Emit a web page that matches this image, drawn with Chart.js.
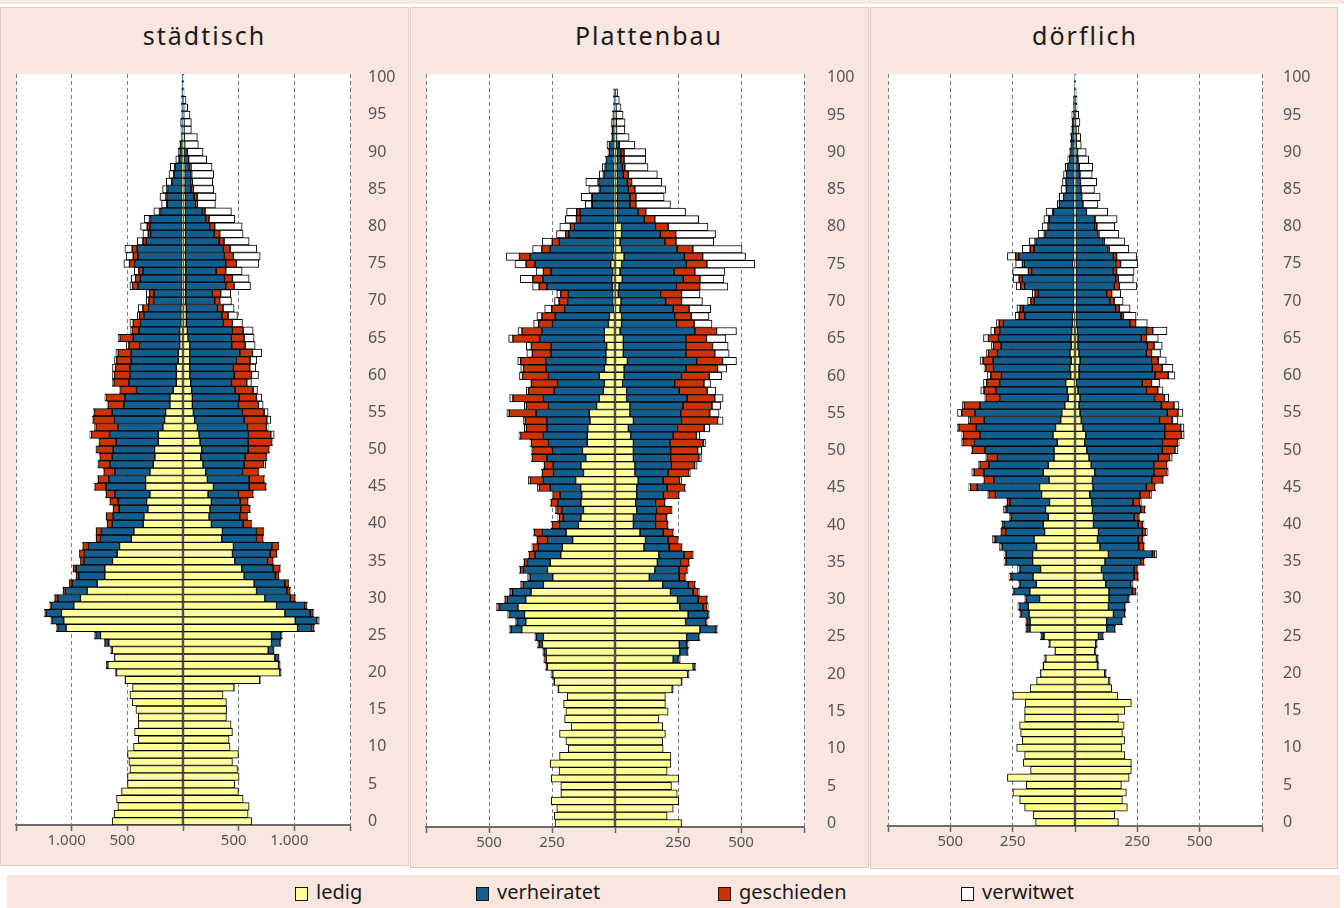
<!DOCTYPE html>
<html lang="de">
<head>
<meta charset="utf-8">
<title>Bevölkerung nach Alter und Familienstand</title>
<script src="https://cdn.jsdelivr.net/npm/chart.js@4.4.1/dist/chart.umd.min.js"></script>
<style>
  html, body { margin: 0; padding: 0; background: #fff; }
  body { width: 1344px; height: 908px; position: relative; overflow: hidden; font-family: "Noto Sans", sans-serif; }
  .streifen { position: absolute; left: 0; top: 0; width: 1344px; height: 4px; background: #f9e6de; }
  .panel { position: absolute; top: 7px; background: #f9e6de; box-sizing: border-box; border: 1px solid #ddccc4; }
  .titel { position: absolute; top: 20px; height: 30px; line-height: 30px; text-align: center; font-size: 25px; letter-spacing: 2px; color: #1a1a1a; }
  canvas { position: absolute; }
  .legende { position: absolute; left: 7px; top: 875px; width: 1333px; height: 33px; background: #f9e6de; }
  .eintrag { position: absolute; top: 0; height: 33px; line-height: 33px; font-size: 20px; color: #1a1a1a; }
  .eintrag span { position: absolute; left: 0; top: 12px; width: 11px; height: 12px; border: 1px solid #111; }
  .eintrag b { font-weight: normal; margin-left: 21px; }
</style>
</head>
<body>
<div class="streifen"></div>
<div class="panel" style="left:0;width:409px;height:859px"></div>
<div class="panel" style="left:410px;width:459px;height:861px"></div>
<div class="panel" style="left:870px;width:468px;height:862px"></div>
<div class="titel" style="left:0;width:409px">städtisch</div>
<div class="titel" style="left:410px;width:478px">Plattenbau</div>
<div class="titel" style="left:870px;width:430px">dörflich</div>
<canvas id="stadt" width="409" height="860" style="left:0;top:7px;width:409px;height:860px"></canvas>
<canvas id="platte" width="458" height="861" style="left:410px;top:7px;width:458px;height:861px"></canvas>
<canvas id="dorf" width="468" height="862" style="left:870px;top:7px;width:468px;height:862px"></canvas>
<div class="legende">
  <div class="eintrag" style="left:288px"><span style="background:#ffff99"></span><b>ledig</b></div>
  <div class="eintrag" style="left:469px"><span style="background:#135f8f"></span><b>verheiratet</b></div>
  <div class="eintrag" style="left:711px"><span style="background:#cc3300"></span><b>geschieden</b></div>
  <div class="eintrag" style="left:954px"><span style="background:#ffffff"></span><b>verwitwet</b></div>
</div>
<script>
// Altersjahre 0..100 (Kategorien der y-Achse)
const alter = Array.from({ length: 101 }, (_, i) => i);
const altersTicks = [0, 5, 10, 15, 20, 25, 30, 35, 40, 45, 50, 55, 60, 65, 70, 75, 80, 85, 90, 95, 100];

const statusNamen = ['ledig', 'verheiratet', 'geschieden', 'verwitwet'];
const statusFarben = ['#ffff99', '#125e8e', '#cc3300', '#ffffff'];

// ------------------- städtisch -------------------
const stadtLedigL = [636,618,585,597,552,498,498,477,486,498, 444,402,435,402,402,423,456,477,453,519, 597,675,615,636,666,741,1050,1071,1092,981, 921,861,771,702,702,633,591,570,465,441, 357,351,315,327,297,336,336,297,267,252, 255,222,222,180,165,156,117,117,87,60, 60,60,42,42,30,30,30,15,15,15, 12,12,12,12,12,12,12,12,6,6, 6,6,6,6,6,6,6,6,6,3, 3,3,3,0,0,0,0,0,0,0, 0];
const stadtVerhL = [0,0,0,0,0,0,0,0,0,0, 0,0,0,0,0,0,0,0,0,3, 9,12,3,9,36,42,75,105,135,204, 204,195,225,234,258,258,294,279,276,291, 279,276,258,255,315,354,330,315,390,384, 372,378,438,405,450,480,414,405,330,426, 417,417,423,423,360,417,366,366,336,294, 252,249,393,372,348,423,393,399,324,285, 291,285,195,135,141,132,93,75,66,30, 25,20,10,10,10,8,8,8,6,6, 6];
const stadtGeschL = [0,0,0,0,0,0,0,0,0,0, 0,0,0,0,0,0,0,0,0,0, 0,3,0,3,3,9,9,6,9,9, 27,21,24,24,27,30,45,51,39,48, 45,63,54,75,78,102,96,99,102,111, 150,150,165,198,189,159,144,171,144,135, 138,129,132,117,96,120,63,66,39,51, 42,39,48,42,36,45,42,45,30,21, 24,10,10,6,6,6,3,3,3,2, 0,0,0,0,0,0,0,0,0,0, 0];
const stadtVerwL = [0,0,0,0,0,0,0,0,0,0, 0,0,0,0,0,0,0,0,0,0, 0,0,0,3,3,6,6,6,9,6, 3,3,3,3,3,3,3,3,3,3, 3,3,3,3,6,6,6,6,6,6, 6,6,12,12,12,12,6,9,9,15, 18,27,18,21,24,15,12,30,21,42, 24,30,24,39,42,51,63,66,51,48, 60,48,51,45,54,39,48,42,39,30, 14,12,5,8,12,6,6,6,6,3, 3];
const stadtLedigR = [618,585,594,540,498,465,504,489,444,498, 423,414,444,432,390,393,390,360,459,690, 870,858,825,765,795,795,1029,1008,915,840, 735,660,639,549,528,465,444,453,348,354, 255,234,243,255,225,273,219,204,180,159, 168,153,144,129,105,93,84,84,78,69, 60,60,60,60,60,45,39,30,30,30, 24,24,24,24,24,24,21,21,21,21, 21,21,18,18,18,15,15,15,15,12, 12,9,9,6,6,3,3,3,0,0, 0];
const stadtVerhR = [0,0,0,0,0,0,0,0,0,0, 0,0,0,0,0,0,0,0,3,6, 9,12,33,48,78,84,129,195,228,255, 228,273,276,279,282,294,339,345,312,306, 285,276,276,258,273,321,375,330,369,399, 417,432,444,450,444,441,414,420,390,366, 399,393,420,450,378,390,405,333,318,279, 261,240,360,348,273,360,351,342,303,258, 219,183,156,96,81,57,57,57,42,39, 27,6,3,3,3,3,3,0,0,0, 0];
const stadtGeschR = [0,0,0,0,0,0,0,0,0,0, 0,0,0,0,0,0,0,0,0,0, 3,3,6,6,6,9,15,12,27,18, 45,30,33,33,63,51,60,60,60,63, 75,69,84,72,132,150,135,144,174,192, 189,210,201,171,204,195,180,156,162,138, 156,147,123,114,120,114,96,81,57,51, 45,75,75,72,87,96,81,60,45,51, 45,30,24,15,30,21,12,6,15,0, 0,0,0,0,0,0,0,0,0,0, 0];
const stadtVerwR = [0,0,0,0,0,0,0,0,0,0, 0,0,0,0,0,0,0,0,0,0, 0,0,0,0,0,6,9,9,3,3, 3,3,3,3,3,3,3,3,3,3, 3,3,3,3,6,6,6,6,21,6, 6,9,30,15,36,36,42,48,39,42, 63,54,60,84,90,90,90,90,84,99, 105,90,147,150,147,201,240,240,225,210, 246,231,237,162,168,183,183,198,189,162, 141,123,117,66,66,57,36,24,10,8, 8];

// ------------------- Plattenbau -------------------
const platteLedigL = [238,241,231,253,215,215,253,222,257,220, 185,195,220,174,200,195,204,189,224,241, 247,268,273,273,288,284,370,354,359,385, 354,333,284,247,268,257,215,209,168,194, 145,135,125,135,132,136,156,125,135,116, 129,110,110,108,99,102,73,62,46,42, 62,42,36,36,33,42,42,26,22,5, 7,7,11,13,7,17,7,4,3,3, 3,2,2,2,2,2,3,2,4,6, 3,2,2,2,2,2,0,0,0,0, 0];
const platteVerhL = [0,0,0,0,0,0,0,0,0,0, 0,0,0,0,0,0,0,0,3,3, 4,3,5,8,13,28,42,33,59,73, 73,73,79,90,95,90,102,95,100,94, 75,70,86,92,86,121,128,119,110,154, 119,154,174,162,172,211,191,222,195,186, 202,231,239,218,220,257,248,222,215,195, 181,178,260,273,247,300,330,253,218,180, 158,135,137,88,88,58,62,42,33,28, 20,20,10,10,6,6,4,3,3,0, 0];
const platteGeschL = [0,0,0,0,0,0,0,0,0,0, 0,0,0,0,0,0,0,0,0,0, 0,2,2,3,3,3,3,3,3,7, 7,8,7,5,13,13,24,22,40,33, 30,16,20,26,29,44,53,44,36,59, 79,69,90,82,86,107,88,121,102,104, 103,90,99,74,79,106,79,55,53,51, 34,30,30,40,30,36,42,33,28,13, 16,16,13,2,2,2,2,2,2,2, 2,0,0,0,0,0,0,0,0,0, 0];
const platteVerwL = [0,0,0,0,0,0,0,0,0,0, 0,0,0,0,0,0,0,0,0,0, 3,3,3,3,4,3,4,5,5,5, 5,5,5,5,4,3,3,4,3,3, 3,6,6,4,3,7,7,5,4,4, 4,4,7,8,7,9,8,13,9,4, 12,11,12,22,20,17,16,20,20,28, 18,16,26,50,29,44,53,37,40,36, 42,44,40,26,42,42,49,16,12,3, 3,10,3,2,6,3,2,3,3,0, 0];
const platteLedigR = [264,207,231,253,247,224,253,207,222,222, 191,189,200,189,174,211,200,200,227,264, 288,310,231,257,255,284,337,280,290,257, 248,220,189,136,158,168,174,115,121,99, 73,73,86,82,86,86,92,79,79,73, 73,73,62,53,73,59,59,46,46,30, 36,36,49,33,33,33,20,26,26,20, 24,13,16,29,20,26,36,26,20,26, 26,8,8,8,8,8,8,8,7,8, 8,5,3,3,2,2,2,2,0,0, 0];
const platteVerhR = [0,0,0,0,0,0,0,0,0,0, 0,0,0,0,0,0,0,0,4,3, 4,6,20,30,29,49,63,80,79,92, 82,90,102,119,96,92,100,100,90,92, 88,88,79,79,106,121,99,132,145,148, 148,145,169,195,191,202,211,240,209,207, 228,246,275,248,248,248,297,218,211,211, 177,168,228,242,214,257,239,220,178,154, 135,108,84,51,51,45,41,25,22,15, 15,12,3,3,3,2,2,0,0,0, 0];
const platteGeschR = [0,0,0,0,0,0,0,0,0,0, 0,0,0,0,0,0,0,0,0,0, 0,3,4,2,5,2,4,5,3,16, 33,20,26,24,33,34,33,49,37,40, 48,44,59,37,62,70,66,83,92,112, 107,132,92,106,143,115,115,110,111,116, 110,125,103,115,106,82,86,70,66,63, 63,83,92,66,83,82,73,63,44,61, 50,42,30,24,24,26,17,20,10,13, 13,0,0,0,0,0,0,0,0,0, 0];
const platteVerwR = [0,0,0,0,0,0,0,0,0,0, 0,0,0,0,0,0,0,0,0,0, 2,2,4,2,5,2,3,4,3,5, 5,5,3,3,3,3,4,3,3,3, 3,3,3,3,3,4,7,5,10,10, 16,9,13,22,22,37,34,33,34,26, 49,36,55,57,62,77,79,71,70,86, 83,73,112,95,119,189,170,195,150,158, 158,174,158,137,112,123,119,115,92,86, 86,62,50,33,35,28,20,15,10,0, 0];

// ------------------- dörflich -------------------
const dorfLedigL = [158,168,202,222,249,195,271,178,207,202, 234,211,218,222,202,202,200,249,180,154, 138,127,117,80,101,124,180,180,184,187, 142,181,155,168,138,170,170,154,164,122, 127,107,118,102,134,142,104,127,107,84, 84,71,88,78,57,53,41,27,31,37, 17,20,15,20,15,16,13,10,10,4, 4,4,4,4,4,10,4,4,3,3, 3,3,3,3,3,3,3,2,2,2, 2,2,2,2,2,0,0,0,0,0, 0];
const dorfVerhL = [0,0,0,0,0,0,0,0,0,0, 0,0,0,0,0,0,0,0,0,0, 2,2,4,1,3,10,13,13,33,35, 53,64,66,86,83,106,106,138,154,156, 158,148,156,159,185,250,221,238,238,227, 277,332,293,318,307,348,340,275,287,265, 278,307,313,291,281,291,289,277,191,204, 160,143,198,207,170,194,221,160,154,118, 103,100,84,60,43,32,33,32,28,20, 16,12,13,10,10,8,6,6,4,3, 2];
const dorfGeschL = [0,0,0,0,0,0,0,0,0,0, 0,0,0,0,0,0,0,0,0,0, 0,0,0,0,0,2,2,2,3,3, 3,3,3,5,3,3,3,5,7,17, 7,3,7,11,27,27,40,40,37,43, 51,47,68,70,57,53,64,56,47,52, 43,31,41,37,32,40,20,17,23,12, 13,13,16,13,13,7,13,16,3,2, 2,2,2,0,0,0,0,0,0,0, 0,0,0,0,0,0,0,0,0,0, 0];
const dorfVerwL = [0,0,0,0,0,0,0,0,0,0, 0,0,0,0,0,0,0,0,0,0, 0,0,3,0,3,3,3,3,4,4, 4,4,4,6,6,6,6,6,6,3, 4,5,6,4,4,7,4,9,5,4, 4,5,5,7,7,17,7,4,13,13, 13,7,12,7,7,20,16,11,16,13, 13,11,17,24,63,27,33,31,23,25, 24,20,27,8,17,21,14,12,9,7, 5,5,4,4,0,5,0,0,0,0, 0];
const dorfLedigR = [174,159,210,190,206,186,217,226,226,200, 187,200,190,197,174,200,226,172,147,136, 119,90,86,79,83,94,127,127,154,134, 136,136,123,114,106,120,134,100,90,94, 74,74,70,67,59,72,70,79,65,56, 47,39,43,32,25,20,16,20,12,5, 16,16,20,16,12,12,9,5,5,4, 4,4,4,4,4,4,4,3,3,3, 3,3,3,2,2,2,2,2,2,2, 2,0,0,0,0,0,0,0,0,0, 0];
const dorfVerhR = [0,0,0,0,0,0,0,0,0,0, 0,0,0,0,0,0,0,0,0,4, 4,4,5,4,4,16,32,60,45,66, 78,94,100,123,131,143,176,156,163,176, 179,163,194,166,201,214,238,238,251,278, 303,312,317,328,314,350,330,299,275,265, 305,294,287,270,278,254,278,215,180,159, 136,123,154,159,150,159,150,130,110,90, 76,76,43,30,25,22,20,18,15,10, 8,5,5,4,2,2,2,2,0,0, 0];
const dorfGeschR = [0,0,0,0,0,0,0,0,0,0, 0,0,0,0,0,0,0,0,0,0, 0,0,0,0,0,3,2,2,2,2, 3,13,7,16,13,13,9,20,17,13, 17,17,16,28,41,35,43,53,53,45, 51,60,67,64,51,43,51,40,45,37, 53,40,27,21,27,21,25,23,9,15, 17,20,20,11,13,20,13,4,5,3, 9,3,0,0,0,0,0,0,0,0, 0,0,0,0,0,0,0,0,0,0, 0];
const dorfVerwR = [0,0,0,0,0,0,0,0,0,0, 0,0,0,0,0,0,0,0,0,2, 3,2,3,2,3,3,2,2,2,2, 3,3,3,3,3,4,8,3,7,7, 7,5,4,5,6,3,4,4,4,11, 12,7,11,13,23,20,20,17,21,32, 27,43,32,36,33,47,57,47,51,43, 36,36,70,60,70,68,80,79,82,80, 71,87,85,60,74,54,65,49,54,43, 35,20,18,12,18,13,6,6,5,3, 3];

// Beschriftete Werte der x-Achse
const stadtXTicks = [500, 1000];
const platteXTicks = [250, 500];
const dorfXTicks = [250, 500];

Chart.defaults.font.family = '"Noto Sans", sans-serif';

// Weißer Hintergrund nur im Plotbereich
const weisseFlaeche = {
    id: 'weisseFlaeche',
    beforeDraw(chart) {
        const { ctx, chartArea: a } = chart;
        ctx.save();
        ctx.fillStyle = '#ffffff';
        ctx.fillRect(a.left, a.top, a.right - a.left, a.bottom - a.top);
        ctx.restore();
    }
};

// Tausenderpunkt wie im Original
function deZahl(v) {
    return String(v).replace(/\B(?=(\d{3})+(?!\d))/g, '.');
}

function zeichnePyramide(id, links, rechts, grenze, schritt, xTicks, pad, yPad, labelOffset) {
    const datasets = [];
    links.forEach((werte, i) => {
        datasets.push({
            label: statusNamen[i] + ' links',
            data: werte.map(v => -v),
            backgroundColor: statusFarben[i]
        });
    });
    rechts.forEach((werte, i) => {
        datasets.push({
            label: statusNamen[i] + ' rechts',
            data: werte,
            backgroundColor: statusFarben[i]
        });
    });

    new Chart(document.getElementById(id), {
        type: 'bar',
        data: { labels: alter, datasets },
        plugins: [weisseFlaeche],
        options: {
            indexAxis: 'y',
            responsive: false,
            animation: false,
            layout: { padding: pad },
            plugins: { legend: { display: false }, tooltip: { enabled: false } },
            datasets: {
                bar: {
                    categoryPercentage: 1,
                    barPercentage: 1,
                    borderWidth: 1,
                    borderColor: '#000000',
                    borderSkipped: false
                }
            },
            scales: {
                x: {
                    stacked: true,
                    min: -grenze,
                    max: grenze,
                    ticks: {
                        stepSize: schritt,
                        autoSkip: false,
                        maxRotation: 0,
                        padding: 1,
                        labelOffset: labelOffset,
                        color: '#555',
                        font: { size: 15 },
                        callback: v => xTicks.includes(Math.abs(v)) ? deZahl(Math.abs(v)) : ''
                    },
                    grid: {
                        color: c => (c.tick && c.tick.value === 0) ? 'rgba(0,0,0,0)' : '#7d7d7d',
                        lineWidth: 1,
                        drawTicks: true,
                        tickLength: 6,
                        tickColor: '#666',
                        tickWidth: 1.5
                    },
                    border: { display: true, color: '#6e6e6e', width: 2, dash: [4, 3] },
                    afterFit: s => { s.height = 30; }
                },
                y: {
                    stacked: true,
                    reverse: true,
                    position: 'right',
                    grid: { display: false, drawTicks: false },
                    border: { display: false },
                    ticks: {
                        autoSkip: false,
                        padding: yPad,
                        color: '#555',
                        font: { size: 16 },
                        callback: (v, i) => altersTicks.includes(alter[i]) ? String(alter[i]) : ''
                    },
                    afterFit: s => { s.width = 50; }
                }
            }
        }
    });
}

zeichnePyramide('stadt',
    [stadtLedigL, stadtVerhL, stadtGeschL, stadtVerwL],
    [stadtLedigR, stadtVerhR, stadtGeschR, stadtVerwR],
    1500, 500, stadtXTicks, { left: 16, right: 9, top: 67, bottom: 12 }, 18, -5);

zeichnePyramide('platte',
    [platteLedigL, platteVerhL, platteGeschL, platteVerwL],
    [platteLedigR, platteVerhR, platteGeschR, platteVerwR],
    750, 250, platteXTicks, { left: 16, right: 14, top: 67, bottom: 11 }, 23, 0);

zeichnePyramide('dorf',
    [dorfLedigL, dorfVerhL, dorfGeschL, dorfVerwL],
    [dorfLedigR, dorfVerhR, dorfGeschR, dorfVerwR],
    750, 250, dorfXTicks, { left: 18, right: 26, top: 67, bottom: 13 }, 21, 0);
</script>
</body>
</html>
